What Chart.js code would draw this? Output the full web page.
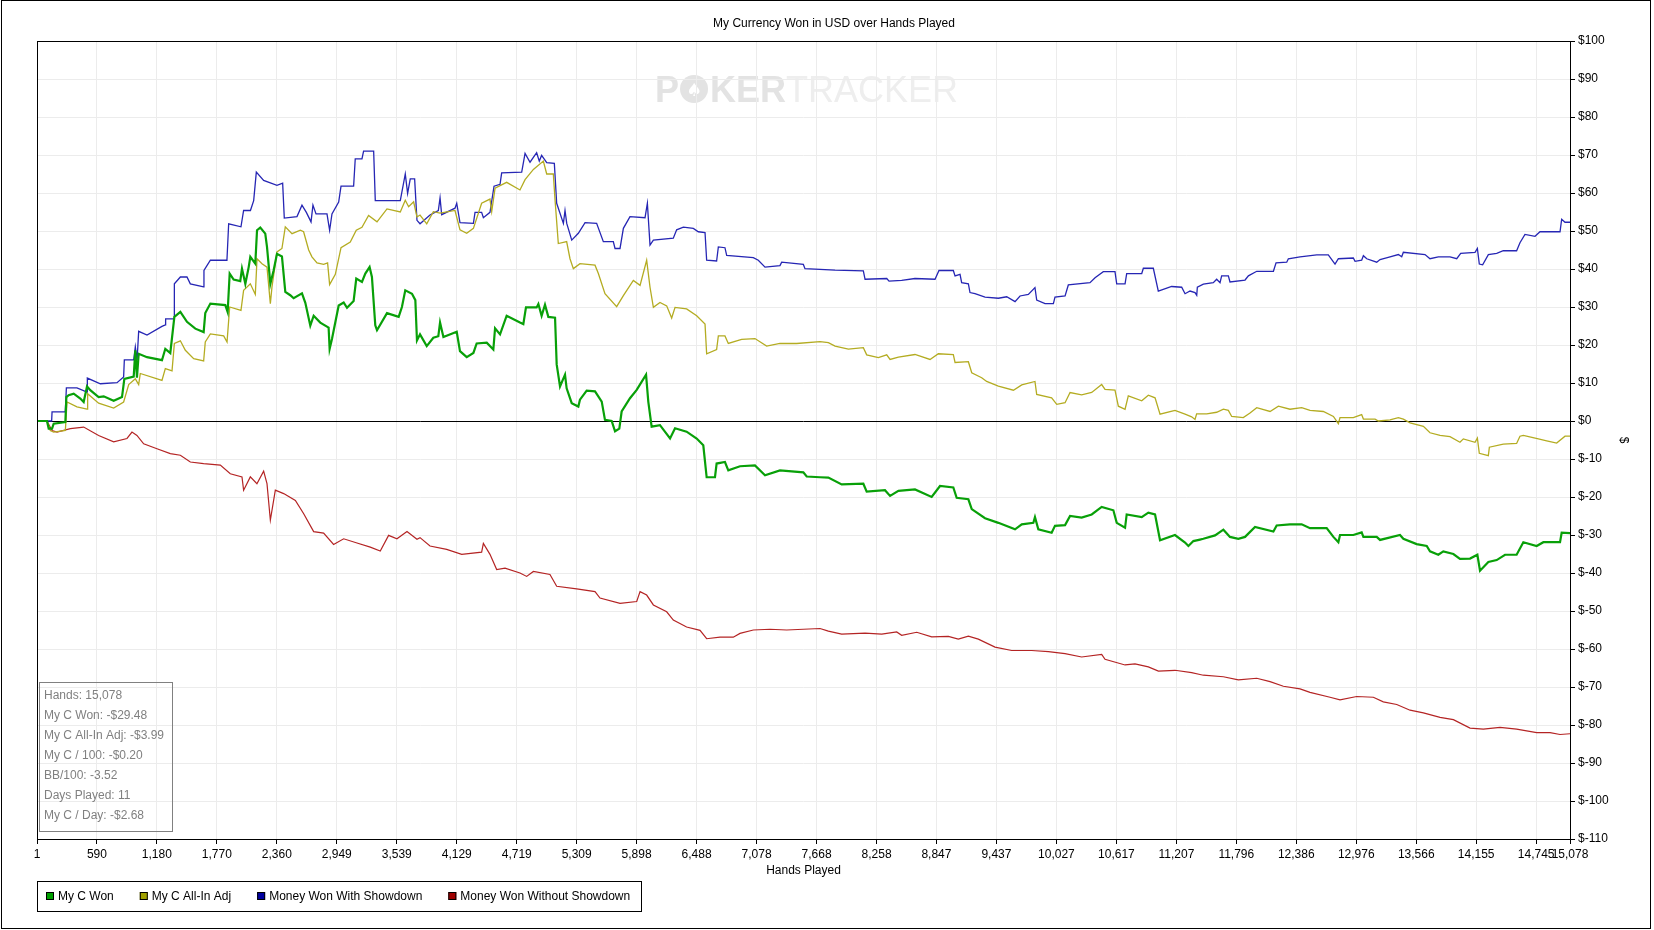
<!DOCTYPE html>
<html>
<head>
<meta charset="utf-8">
<title>My Currency Won in USD over Hands Played</title>
<script src="https://cdn.jsdelivr.net/npm/chart.js@4.4.1/dist/chart.umd.min.js"></script>
<style>
    html, body { margin: 0; padding: 0; background: #fff; }
    #wrap { width: 1654px; height: 930px; position: relative; }
</style>
</head>
<body>
<div id="wrap"><canvas id="graph"></canvas></div>
<script>
const chartTitle = 'My Currency Won in USD over Hands Played';
const xAxisTitle = 'Hands Played';
const yAxisTitle = '$';

const xTicks = [1, 590, 1180, 1770, 2360, 2949, 3539, 4129, 4719, 5309, 5898, 6488, 7078, 7668,
    8258, 8847, 9437, 10027, 10617, 11207, 11796, 12386, 12976, 13566, 14155, 14745, 15078];
const yMin = -110;
const yMax = 100;
const yStep = 10;

const seriesLabels = ['My C Won', 'My C All-In Adj', 'Money Won With Showdown', 'Money Won Without Showdown'];

const statsLines = ['Hands: 15,078', 'My C Won: -$29.48', 'My C All-In Adj: -$3.99', 'My C / 100: -$0.20',
    'BB/100: -3.52', 'Days Played: 11', 'My C / Day: -$2.68'];

// My C Won
const wonHands = [1, 99, 116, 149, 165, 280, 290, 312, 362, 427, 460, 493, 525, 607, 657, 755, 837, 860, 952, 968,
    984, 1001, 1083, 1230, 1263, 1312, 1352, 1411, 1476, 1558, 1640, 1656, 1706, 1853, 1876, 1896, 1935, 2000, 2017, 2050,
    2083, 2099, 2148, 2165, 2197, 2246, 2263, 2296, 2328, 2361, 2410, 2443, 2492, 2525, 2607, 2640, 2689, 2722, 2787, 2869,
    2879, 2902, 2968, 3017, 3050, 3115, 3141, 3197, 3230, 3272, 3295, 3328, 3345, 3443, 3558, 3590, 3623, 3689, 3722, 3738,
    3768, 3834, 3899, 3948, 3965, 3998, 4129, 4161, 4227, 4293, 4325, 4424, 4489, 4506, 4555, 4620, 4751, 4784, 4810, 4915,
    4932, 4964, 4997, 5030, 5096, 5112, 5145, 5194, 5210, 5260, 5325, 5341, 5407, 5489, 5555, 5587, 5653, 5686, 5728, 5751,
    5833, 5899, 5991, 6013, 6046, 6128, 6227, 6276, 6390, 6489, 6554, 6587, 6669, 6685, 6767, 6800, 6915, 7062, 7161, 7308,
    7538, 7571, 7702, 7784, 7915, 8128, 8161, 8341, 8391, 8473, 8636, 8800, 8882, 9013, 9046, 9161, 9194, 9325, 9456, 9620,
    9686, 9800, 9816, 9849, 9980, 10013, 10112, 10161, 10275, 10374, 10472, 10587, 10620, 10702, 10718, 10866, 10931, 10997, 11046, 11193,
    11292, 11325, 11374, 11439, 11472, 11587, 11669, 11734, 11816, 11882, 11980, 12161, 12193, 12324, 12439, 12521, 12685, 12751, 12800, 12816,
    12947, 13029, 13046, 13177, 13210, 13406, 13439, 13570, 13669, 13701, 13783, 13832, 13931, 13996, 14095, 14167, 14193, 14275, 14357, 14439,
    14553, 14619, 14750, 14816, 14980, 14996, 15078];
const wonValues = [0, 0, -2, -2, -0.7, -0.3, 6.3, 6.8, 7.2, 5.9, 5, 9.1, 8.1, 6.3, 6.5, 5.3, 6.3, 11.1, 11.7, 18.6,
    11.4, 17.7, 16.8, 16, 19, 17.9, 27.4, 28.7, 26.1, 24.3, 23.4, 28.4, 30.9, 30.5, 28.7, 38.8, 37.2, 36.8, 40.1, 36.1,
    40.5, 43.2, 41.4, 50.2, 50.9, 49.3, 45.8, 36.1, 39.6, 44, 43.3, 34, 33.1, 32.3, 33.6, 31.1, 25.1, 27.7, 25.9, 24.6,
    19, 21.6, 30.4, 31.2, 29.8, 31.6, 37.5, 36.6, 38.8, 40.5, 37.9, 25.2, 23.9, 28.4, 27.4, 30, 34.4, 33.5, 31.8, 21.2,
    22.8, 19.7, 21.9, 22.3, 25.9, 22.1, 23.5, 18.4, 16.8, 17.9, 20.4, 20.6, 18.8, 24.4, 22.8, 27.7, 25.9, 25.5, 29.9, 29.9,
    30.8, 27.7, 30.6, 27.4, 27.2, 14.9, 9.1, 12.2, 8.6, 4.7, 3.8, 5.6, 8, 7.8, 5.1, 0.3, 0, -2.7, -2, 2.5,
    6, 8.2, 12.2, 5.1, -1.5, -1.1, -4.6, -1.9, -2.8, -4.6, -6.4, -14.8, -14.8, -11.2, -10.8, -13, -11.9, -11.7, -14.3, -13,
    -13.5, -14.6, -14.8, -14.9, -16.7, -16.5, -18.6, -18.2, -19.7, -18.4, -18, -20, -17.1, -17.5, -20.2, -20.6, -23.2, -25.6, -26.8, -28.5,
    -27.2, -26.8, -25.3, -28.5, -29.4, -27.6, -27.4, -25, -25.4, -24.6, -22.6, -23.5, -26.8, -28.1, -24.6, -25.3, -24.1, -24.6, -31.4, -30,
    -32, -32.9, -31.6, -31.2, -31, -30.1, -28.6, -30.5, -31, -30.5, -27.9, -29.1, -27.5, -27.2, -27.2, -28.2, -28.2, -30.5, -31.9, -30,
    -30, -29.3, -30.5, -30.5, -31.3, -30, -31, -32.4, -32.9, -34.3, -35.2, -34.3, -35, -36.3, -36.2, -35.2, -39.4, -37.1, -36.6, -35.2,
    -35.2, -31.9, -32.9, -31.9, -31.9, -29.4, -29.5];

// My C All-In Adj
const adjHands = [1, 99, 132, 165, 280, 296, 394, 493, 499, 607, 755, 853, 903, 968, 1001, 1017, 1230, 1263, 1329, 1352,
    1411, 1460, 1542, 1640, 1656, 1706, 1837, 1870, 1896, 2007, 2033, 2099, 2148, 2165, 2214, 2263, 2296, 2312, 2361, 2410,
    2443, 2509, 2591, 2623, 2673, 2705, 2755, 2820, 2859, 2879, 2935, 2991, 3082, 3141, 3197, 3262, 3345, 3443, 3574, 3623,
    3656, 3705, 3738, 3768, 3834, 3899, 3965, 4112, 4161, 4227, 4293, 4374, 4456, 4473, 4506, 4620, 4751, 4801, 4883, 4981,
    5014, 5079, 5096, 5128, 5210, 5243, 5276, 5341, 5489, 5522, 5587, 5702, 5768, 5866, 5932, 5997, 6030, 6063, 6128, 6194,
    6243, 6276, 6390, 6489, 6571, 6587, 6685, 6702, 6767, 6800, 6931, 7062, 7177, 7308, 7472, 7702, 7784, 7850, 7981, 8128,
    8161, 8276, 8358, 8391, 8473, 8636, 8784, 8866, 9013, 9030, 9161, 9194, 9292, 9341, 9456, 9604, 9686, 9816, 9833, 9980,
    10030, 10112, 10161, 10275, 10374, 10472, 10505, 10603, 10636, 10702, 10734, 10866, 10931, 10997, 11046, 11193, 11292, 11357, 11390, 11406,
    11505, 11603, 11669, 11718, 11751, 11865, 11931, 11997, 12128, 12210, 12324, 12439, 12521, 12652, 12751, 12800, 12816, 12947, 13029, 13046,
    13161, 13193, 13308, 13390, 13439, 13505, 13636, 13701, 13800, 13898, 13996, 14029, 14144, 14167, 14186, 14275, 14285, 14422, 14553, 14586,
    14619, 14767, 14849, 14947, 15029, 15078];
const adjValues = [0, 0, -2.5, -2.9, -2.5, 5, 3.7, 3.1, 7.2, 4.7, 3.4, 5, 9.6, 11.1, 9.6, 12.5, 10.7, 13.8, 13.2, 20.4,
    21.1, 18.6, 16.4, 15.8, 20.8, 22.9, 22.4, 20.8, 30, 29.1, 34.4, 36.1, 33.3, 42.7, 41.4, 40.5, 30.9, 35.3, 44.5, 45.4,
    51.1, 49.3, 50.2, 49.8, 45, 43.2, 41.6, 41.2, 41.6, 35.9, 38.6, 45.6, 47.1, 50.2, 51, 54.1, 52.4, 55.8, 55, 58.1,
    56.4, 57.7, 53.7, 54.2, 51.9, 55.1, 54.7, 55.4, 50.3, 49.4, 50.7, 57.3, 58.4, 55.1, 61.3, 62.8, 60.8, 63.5, 66.2, 68.4,
    65, 65, 58.2, 46.7, 47.2, 42.7, 40.1, 41.4, 41, 38.8, 33.5, 30.1, 33, 37, 35.7, 42.3, 35.2, 29.9, 31.2, 30.3,
    27.1, 29.9, 29.5, 27.7, 25.5, 17.7, 18.8, 22.4, 22.4, 20.4, 21.5, 21.7, 19.7, 20.4, 20.4, 20.9, 20.6, 19.7, 18.9, 19.3,
    17.4, 16.7, 17.4, 16.2, 16.8, 17.5, 16.2, 17.7, 17.5, 15.4, 15.6, 12.7, 11.4, 10.4, 9.2, 8.1, 9.5, 10.4, 7, 6.1,
    4.4, 4.8, 7.5, 6.9, 7.5, 9.6, 8.3, 8.1, 3.9, 3.1, 6.6, 5.3, 6.8, 6.1, 1.8, 2.8, 1.8, 1.1, 0.4, 1.9,
    1.9, 2.3, 3.1, 2.8, 1.2, 0.9, 2.1, 3.5, 2.5, 3.9, 3.1, 3.5, 2.8, 2.5, 1.2, -0.7, 0.9, 0.9, 1.7, 0.5,
    0.5, 0, 0.3, 0.9, 0.5, -0.5, -1.4, -3.1, -3.8, -4.1, -5.6, -4.7, -5.6, -4.5, -8.5, -9.1, -6.9, -6.1, -5.9, -4,
    -3.8, -4.7, -5.2, -5.8, -4, -4];

// Money Won With Showdown
const sdHands = [1, 145, 149, 279, 290, 394, 493, 496, 624, 788, 853, 860, 952, 968, 985, 1001, 1083, 1230, 1263, 1266,
    1349, 1352, 1411, 1476, 1509, 1640, 1643, 1706, 1869, 1886, 2007, 2033, 2100, 2132, 2158, 2230, 2361, 2417, 2433, 2558,
    2607, 2650, 2696, 2715, 2745, 2853, 2879, 2902, 2968, 2991, 3115, 3131, 3197, 3213, 3312, 3328, 3574, 3623, 3646, 3672,
    3715, 3738, 3768, 3866, 3948, 3965, 3981, 4112, 4129, 4161, 4293, 4309, 4374, 4391, 4456, 4496, 4555, 4571, 4768, 4801,
    4850, 4915, 4941, 4964, 5014, 5089, 5112, 5178, 5194, 5211, 5260, 5325, 5391, 5505, 5571, 5669, 5686, 5735, 5768, 5833,
    5981, 6004, 6030, 6063, 6259, 6292, 6358, 6456, 6505, 6571, 6587, 6685, 6702, 6767, 6784, 7046, 7095, 7161, 7308, 7325,
    7538, 7554, 7850, 8128, 8145, 8358, 8381, 8505, 8636, 8833, 8872, 9013, 9030, 9079, 9095, 9161, 9177, 9226, 9325, 9456,
    9538, 9620, 9669, 9751, 9816, 9833, 9915, 9997, 10013, 10112, 10144, 10357, 10407, 10488, 10603, 10620, 10702, 10718, 10866, 10882,
    10980, 11029, 11160, 11259, 11292, 11341, 11390, 11407, 11413, 11472, 11570, 11603, 11636, 11652, 11718, 11734, 11882, 11915, 11997, 12161,
    12187, 12292, 12308, 12423, 12587, 12701, 12767, 12800, 12947, 12964, 13029, 13046, 13079, 13177, 13210, 13308, 13390, 13423, 13439, 13652,
    13701, 13783, 13898, 13964, 14003, 14144, 14167, 14186, 14219, 14275, 14357, 14422, 14553, 14586, 14635, 14734, 14783, 14980, 14996, 15029,
    15078];
const sdValues = [0, 0, 2.4, 2.4, 8.7, 8.7, 7.6, 11.3, 9.8, 10.1, 11.6, 16.1, 16.1, 19.5, 16, 23.6, 22.6, 24.9, 25.3, 26.9,
    26.9, 36.1, 37.9, 37.9, 36.1, 35.3, 39.6, 42.3, 42.3, 51.9, 51.1, 55.4, 55.4, 58, 65.5, 63.3, 62, 62.6, 53.4, 53.8,
    56.8, 54.9, 52.4, 56.8, 54.5, 54.5, 50.2, 54.5, 57.6, 61.8, 61.8, 69, 69, 71, 71, 58, 58, 65, 59.9, 63.7,
    63.7, 52.8, 51.9, 54.2, 55.4, 58.7, 54.3, 56, 57.3, 52.2, 52, 54.9, 54.9, 53.5, 54.9, 61.8, 62.3, 65.3, 65.5, 70.4,
    68.1, 70.6, 68.4, 69.9, 68, 67.8, 57.3, 52, 55.4, 52, 47.6, 49.4, 52.2, 52, 47.2, 47.2, 45.4, 45.4, 50.7, 53.8,
    53.5, 57.3, 46.3, 47.6, 48.1, 50.3, 51, 50.7, 49.8, 49.6, 42.3, 42.1, 45.8, 45.6, 43.6, 43, 42.3, 40.5, 40.9, 41.8,
    41.2, 40.1, 39.7, 39.5, 37.3, 37.5, 36.8, 37, 37.5, 37.3, 39.6, 39.6, 38.2, 38.6, 36.4, 36.1, 33.8, 33.5, 32.6, 32.3,
    32.7, 31.4, 32.9, 33.3, 35.1, 31.8, 30.9, 30.9, 32.6, 32.9, 35.8, 36.4, 37.7, 39.3, 39.3, 36.1, 36.1, 38.8, 38.8, 40.2,
    40.2, 34.2, 35.4, 35.2, 33.5, 34.2, 33.8, 33.1, 35.2, 36, 36.4, 37.3, 36.4, 38.2, 38.2, 36.6, 37.1, 38.2, 39.4, 39.4,
    41.6, 41.8, 42.7, 43.2, 43.7, 43.7, 41.3, 42.7, 42.9, 42, 42.3, 43.5, 42.7, 41.8, 42.5, 43.2, 43.8, 43.2, 44.4, 43.8,
    42.7, 43.2, 43.2, 42.7, 44.1, 44.4, 45.4, 41.3, 41.1, 43.8, 44.1, 44.8, 44.8, 46.9, 49.1, 48.6, 49.8, 49.8, 53.1, 52.3,
    52.3];

// Money Won Without Showdown
const nsdHands = [1, 99, 149, 198, 329, 460, 607, 755, 886, 935, 984, 1050, 1181, 1312, 1411, 1509, 1640, 1804, 1902, 2017,
    2033, 2099, 2164, 2230, 2263, 2296, 2345, 2427, 2542, 2624, 2722, 2820, 2918, 3017, 3148, 3279, 3377, 3459, 3541, 3640,
    3738, 3768, 3866, 4030, 4178, 4374, 4391, 4456, 4522, 4604, 4751, 4817, 4883, 5046, 5112, 5309, 5489, 5538, 5735, 5899,
    5932, 5997, 6063, 6194, 6259, 6390, 6522, 6587, 6718, 6849, 6915, 7046, 7210, 7374, 7538, 7702, 7784, 7915, 8145, 8309,
    8456, 8505, 8653, 8800, 8964, 9062, 9161, 9259, 9423, 9587, 9784, 9948, 10112, 10275, 10472, 10505, 10702, 10800, 10931, 11030,
    11193, 11357, 11439, 11472, 11669, 11816, 11997, 12128, 12259, 12423, 12521, 12718, 12816, 12980, 13144, 13242, 13374, 13505, 13636, 13800,
    13931, 14095, 14226, 14390, 14553, 14750, 14882, 14980, 15078];
const nsdValues = [0, 0, -2.5, -2.9, -2, -1.6, -3.8, -5.5, -4.6, -2.9, -3.8, -6, -7.3, -8.6, -9, -10.8, -11.2, -11.6, -13.9, -14.7,
    -18.2, -14.7, -16.5, -13.2, -16.5, -26.1, -18.2, -19.1, -20.9, -24.4, -29.1, -29.5, -32.5, -31, -32.1, -33.2, -34.2, -30.1, -31, -29.1,
    -31.1, -30.7, -32.9, -33.8, -35.1, -34.5, -32.2, -35.1, -39.1, -38.7, -40, -40.9, -39.6, -40.4, -43.5, -44.2, -44.9, -46.6, -48, -47.5,
    -44.9, -45.8, -48.4, -50.2, -52.4, -54.2, -55.1, -57.3, -56.9, -56.9, -55.9, -55, -54.8, -55, -54.8, -54.6, -55.3, -56.1, -55.8, -56.1,
    -55.5, -56.4, -55.6, -56.8, -56.7, -57.4, -56.6, -57.4, -59.5, -60.4, -60.4, -60.7, -61.2, -62.1, -61.4, -62.7, -64.2, -63.9, -64.7, -65.8,
    -65.6, -66.2, -66.7, -66.9, -67.3, -68.1, -67.7, -68.6, -69.8, -70.5, -71.4, -72.7, -73.4, -72.5, -72.7, -73.9, -74.6, -76.1, -76.8, -78,
    -78.6, -80.8, -81.1, -80.6, -81.1, -82, -82, -82.5, -82.3];

const lineColors = ['#08a008', '#b4ac22', '#2626b4', '#b42424'];
const swatchColors = ['#00a000', '#a0a000', '#0000a0', '#a00000'];
const fontFamily = "'Liberation Sans', Arial, sans-serif";

function toPoints(hands, values) {
    return hands.map(function (h, i) {
        return { x: h, y: values[i] };
    });
}

// Title, watermark, stats box, legend and frame are painted on the canvas here
const chromePlugin = {
    id: 'chrome',
    beforeDraw: function (chart) {
        const ctx = chart.ctx;
        ctx.save();
        ctx.fillStyle = '#ffffff';
        ctx.fillRect(0, 0, chart.width, chart.height);

        // PokerTracker watermark
        ctx.textBaseline = 'alphabetic';
        ctx.textAlign = 'left';
        ctx.fillStyle = '#e3e3e3';
        ctx.font = 'bold 36px ' + fontFamily;
        let x = 655;
        const base = 102;
        ctx.fillText('P', x, base);
        x += ctx.measureText('P').width + 1;
        const r = 14;
        ctx.beginPath();
        ctx.arc(x + r, base - 13, r, 0, Math.PI * 2);
        ctx.fill();
        ctx.fillStyle = '#ffffff';
        ctx.font = '18px DejaVu Sans';
        ctx.textAlign = 'center';
        ctx.fillText('\u2660', x + r, base - 6);
        ctx.textAlign = 'left';
        ctx.fillStyle = '#e3e3e3';
        ctx.font = 'bold 36px ' + fontFamily;
        x += 2 * r + 2;
        ctx.fillText('KER', x, base);
        x += ctx.measureText('KER').width;
        ctx.fillStyle = '#eeeeee';
        ctx.font = '36px ' + fontFamily;
        ctx.fillText('TRACKER', x, base);
        ctx.restore();
    },
    afterDraw: function (chart) {
        const ctx = chart.ctx;
        const area = chart.chartArea;
        ctx.save();

        // plot frame and outer border
        ctx.strokeStyle = '#000000';
        ctx.lineWidth = 1;
        ctx.strokeRect(Math.round(area.left) + 0.5, Math.round(area.top) + 0.5,
            Math.round(area.right - area.left), Math.round(area.bottom - area.top));
        ctx.strokeRect(1.5, 0.5, 1649, 928);

        // titles
        ctx.fillStyle = '#000000';
        ctx.font = '12px ' + fontFamily;
        ctx.textAlign = 'center';
        ctx.textBaseline = 'middle';
        ctx.fillText(chartTitle, 834, 24);
        ctx.fillText(xAxisTitle, (area.left + area.right) / 2, 871);
        ctx.save();
        ctx.translate(1623, (area.top + area.bottom) / 2);
        ctx.rotate(Math.PI / 2);
        ctx.fillText(yAxisTitle, 0, 0);
        ctx.restore();

        // stats box
        ctx.strokeStyle = '#808080';
        ctx.strokeRect(39.5, 682.5, 133, 149);
        ctx.fillStyle = '#808080';
        ctx.textAlign = 'left';
        statsLines.forEach(function (line, i) {
            ctx.fillText(line, 44, 696 + i * 20);
        });

        // legend
        ctx.strokeStyle = '#000000';
        ctx.strokeRect(37.5, 881.5, 604, 30);
        let lx = 46;
        chart.data.datasets.forEach(function (ds, i) {
            ctx.fillStyle = swatchColors[i];
            ctx.fillRect(lx, 892, 8, 8);
            ctx.strokeStyle = '#000000';
            ctx.strokeRect(lx + 0.5, 892.5, 7, 7);
            ctx.fillStyle = '#000000';
            ctx.fillText(ds.label, lx + 12, 896.5);
            lx += 12 + ctx.measureText(ds.label).width + 26;
        });
        ctx.restore();
    }
};

Chart.defaults.font.family = fontFamily;
Chart.defaults.font.size = 12;
Chart.defaults.color = '#000000';

const ctx = document.getElementById('graph').getContext('2d');
new Chart(ctx, {
    type: 'line',
    data: {
        datasets: [
            { label: seriesLabels[0], data: toPoints(wonHands, wonValues), borderColor: lineColors[0], borderWidth: 2.2 },
            { label: seriesLabels[1], data: toPoints(adjHands, adjValues), borderColor: lineColors[1], borderWidth: 1.3 },
            { label: seriesLabels[2], data: toPoints(sdHands, sdValues), borderColor: lineColors[2], borderWidth: 1.3 },
            { label: seriesLabels[3], data: toPoints(nsdHands, nsdValues), borderColor: lineColors[3], borderWidth: 1.2 }
        ]
    },
    options: {
        responsive: true,
        maintainAspectRatio: false,
        animation: false,
        devicePixelRatio: 1,
        elements: {
            point: { radius: 0, hoverRadius: 0 },
            line: { tension: 0, fill: false }
        },
        layout: { padding: { left: 37, top: 41, right: 0, bottom: 0 } },
        plugins: {
            legend: { display: false },
            title: { display: false },
            tooltip: { enabled: false }
        },
        scales: {
            x: {
                type: 'linear',
                min: xTicks[0],
                max: xTicks[xTicks.length - 1],
                afterBuildTicks: function (scale) {
                    scale.ticks = xTicks.map(function (v) { return { value: v }; });
                },
                afterFit: function (scale) { scale.height = 91; },
                ticks: {
                    autoSkip: false,
                    maxRotation: 0,
                    padding: 3,
                    callback: function (value) { return value.toLocaleString('en-US'); }
                },
                grid: { color: '#ececec', tickColor: '#000000', tickLength: 5 },
                border: { color: '#000000' }
            },
            y: {
                position: 'right',
                min: yMin,
                max: yMax,
                afterFit: function (scale) { scale.width = 84; },
                ticks: {
                    stepSize: yStep,
                    padding: 3,
                    callback: function (value) { return '$' + value; }
                },
                grid: {
                    color: function (c) { return c.tick && c.tick.value === 0 ? '#000000' : '#ececec'; },
                    tickColor: '#000000',
                    tickLength: 5
                },
                border: { color: '#000000' }
            }
        }
    },
    plugins: [chromePlugin]
});
</script>
</body>
</html>
